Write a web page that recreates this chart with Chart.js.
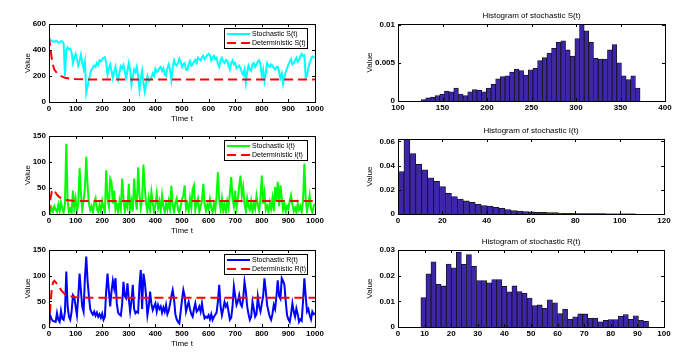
<!DOCTYPE html>
<html>
<head>
<meta charset="utf-8">
<script src="https://cdn.jsdelivr.net/npm/chart.js@4.4.1/dist/chart.umd.min.js"></script>
<style>
  html, body { margin: 0; padding: 0; background: #fff; }
  #wrap { position: relative; width: 686px; height: 361px; overflow: hidden; background: #fff; }
  #wrap canvas { position: absolute; left: 0; top: 0; }
</style>
</head>
<body>
<div id="wrap">
  <canvas id="lineS" width="686" height="361"></canvas>
  <canvas id="lineI" width="686" height="361"></canvas>
  <canvas id="lineR" width="686" height="361"></canvas>
  <canvas id="histS" width="686" height="361"></canvas>
  <canvas id="histI" width="686" height="361"></canvas>
  <canvas id="histR" width="686" height="361"></canvas>
</div>
<script>
const FONT = "'Liberation Sans', Arial, Helvetica, sans-serif";
Chart.defaults.font.family = FONT;
Chart.defaults.font.size = 8;
Chart.defaults.color = '#000';

// time grid of the simulations
const t5 = Array.from({ length: 201 }, (_, i) => i * 5);
const timeTicks = [0, 100, 200, 300, 400, 500, 600, 700, 800, 900, 1000];

// stochastic S(t), every 5 time units
const stochS = [
  485, 478, 470, 466, 462, 470, 468, 455, 460, 468,
  465, 450, 200, 400, 420, 405, 410, 380, 300, 340,
  370, 330, 280, 320, 365, 300, 255, 310, 70, 120,
  170, 220, 250, 265, 280, 270, 300, 285, 320, 310,
  330, 340, 345, 300, 210, 260, 290, 240, 185, 230,
  270, 200, 170, 230, 275, 260, 285, 230, 185, 240,
  300, 250, 135, 190, 250, 230, 270, 200, 95, 180,
  240, 150, 80, 140, 200, 160, 170, 190, 220, 200,
  255, 230, 240, 260, 270, 240, 260, 210, 200, 260,
  290, 250, 170, 260, 320, 290, 280, 300, 335, 310,
  270, 290, 300, 250, 245, 290, 315, 280, 290, 310,
  325, 300, 340, 330, 320, 345, 355, 330, 345, 360,
  370, 360, 320, 340, 355, 330, 340, 290, 270, 320,
  340, 310, 300, 325, 320, 280, 250, 300, 320, 290,
  300, 260, 270, 280, 260, 230, 210, 250, 150, 230,
  280, 250, 240, 290, 300, 270, 290, 310, 320, 290,
  200, 250, 160, 220, 300, 280, 270, 290, 280, 260,
  250, 270, 270, 230, 185, 220, 140, 190, 230, 260,
  290, 310, 330, 290, 300, 320, 340, 310, 325, 350,
  370, 355, 360, 190, 200, 260, 300, 330, 350, 345,
  340
];

// stochastic I(t), every 5 time units
const stochI = [
  20, 3, 12, 5, 15, 8, 4, 18, 6, 22,
  10, 3, 20, 135, 25, 4, 10, 2, 45, 12,
  30, 5, 20, 88, 40, 8, 25, 50, 110, 55,
  20, 8, 15, 3, 22, 30, 10, 4, 18, 6,
  25, 12, 3, 84, 30, 15, 68, 62, 20, 45,
  8, 18, 4, 25, 10, 68, 30, 5, 20, 12,
  58, 10, 25, 5, 68, 30, 8, 90, 40, 12,
  28, 95, 52, 20, 5, 30, 10, 42, 22, 4,
  18, 39, 12, 25, 6, 36, 15, 3, 20, 8,
  25, 10, 54, 18, 4, 22, 30, 8, 3, 15,
  28, 36, 55, 10, 20, 5, 30, 12, 48, 55,
  8, 22, 30, 4, 15, 25, 58, 20, 6, 18,
  10, 28, 12, 3, 20, 8, 35, 80, 25, 10,
  30, 6, 18, 4, 25, 12, 40, 71, 30, 15,
  45, 12, 28, 55, 74, 35, 52, 20, 5, 30,
  15, 8, 25, 4, 20, 10, 35, 18, 6, 30,
  74, 20, 40, 8, 15, 3, 22, 10, 30, 5,
  52, 25, 62, 15, 55, 30, 8, 20, 4, 15,
  10, 25, 36, 18, 5, 12, 3, 20, 8, 15,
  4, 25, 97, 30, 6, 20, 36, 10, 3, 15,
  20
];

// stochastic R(t), every 5 time units
const stochR = [
  3, 22, 15, 12, 11, 10, 27, 14, 10, 31,
  16, 14, 30, 108, 40, 20, 14, 30, 62, 58,
  40, 23, 60, 104, 70, 40, 30, 95, 137, 90,
  60, 35, 28, 24, 30, 22, 28, 20, 25, 18,
  26, 14, 20, 70, 104, 70, 40, 70, 90, 75,
  95, 45, 28, 24, 22, 45, 88, 60, 56, 85,
  55, 30, 50, 82, 35, 27, 30, 28, 80, 111,
  35, 104, 88, 60, 23, 40, 69, 45, 33, 40,
  46, 30, 43, 35, 40, 28, 38, 30, 43, 25,
  32, 45, 60, 72, 55, 25, 15, 10, 7, 30,
  53, 72, 60, 30, 40, 49, 35, 25, 20, 35,
  46, 30, 33, 40, 30, 46, 28, 17, 20, 18,
  23, 15, 25, 14, 20, 24, 28, 50, 82, 40,
  23, 35, 49, 40, 45, 30, 14, 18, 40, 79,
  60, 43, 50, 62, 45, 40, 55, 88, 70, 40,
  25, 14, 20, 49, 35, 20, 25, 59, 40, 30,
  45, 60, 95, 70, 43, 30, 20, 14, 25, 43,
  35, 60, 91, 60, 55, 95, 90, 82, 50, 23,
  15, 10, 25, 46, 30, 20, 36, 25, 10, 15,
  12, 50, 95, 60, 30, 35, 23, 15, 30, 25,
  27
];

// deterministic solutions
const detTimes = [0, 5, 10, 15, 20, 30, 40, 50, 60, 80, 100, 150, 1000];
const detS = [500, 420, 340, 285, 250, 222, 205, 195, 187, 180, 176, 174, 174];
const detI = [0, 28, 42, 47, 45, 37, 32, 29, 27, 26, 25, 25, 25];
const detR = [0, 40, 72, 87, 90, 84, 76, 69, 64, 60, 58, 57, 57];

// histograms (density per bin)
const histSRange = [126, 372];
const histS = [
  0.0002, 0.0004, 0.0005, 0.0007, 0.0009, 0.0013, 0.0012, 0.0017, 0.0009, 0.0007,
  0.0012, 0.0015, 0.0014, 0.0012, 0.0017, 0.0022, 0.0029, 0.0032, 0.0033, 0.0038,
  0.0042, 0.0040, 0.0034, 0.0041, 0.0043, 0.0053, 0.0057, 0.0063, 0.0069, 0.0077,
  0.0079, 0.0067, 0.0059, 0.0082, 0.0101, 0.0092, 0.0077, 0.0056, 0.0055, 0.0055,
  0.0067, 0.0074, 0.0050, 0.0033, 0.0028, 0.0033, 0.0017
];
const histIRange = [0, 107.2];
const histI = [
  0.035, 0.064, 0.050, 0.041, 0.0365, 0.030, 0.027, 0.0227, 0.017, 0.0144,
  0.0124, 0.0108, 0.0097, 0.0080, 0.0069, 0.0066, 0.0055, 0.0047, 0.0036, 0.0028,
  0.0025, 0.0019, 0.0017, 0.0014, 0.0014, 0.0011, 0.0011, 0.0008, 0.0006, 0.0006,
  0.0004, 0.0004, 0.0003, 0.0003, 0.0003, 0.0002, 0.0002, 0.0002, 0.0002, 0.0002
];
const histRRange = [8.6, 94.2];
const histR = [
  0.0115, 0.0207, 0.0254, 0.0166, 0.0160, 0.0245, 0.0231, 0.0292, 0.0244, 0.0282,
  0.0236, 0.0181, 0.0181, 0.0172, 0.0185, 0.0185, 0.0158, 0.0137, 0.0160, 0.0138,
  0.0132, 0.0113, 0.0083, 0.0086, 0.0073, 0.0106, 0.0094, 0.0052, 0.0070, 0.0030,
  0.0040, 0.0051, 0.0051, 0.0034, 0.0035, 0.0020, 0.0026, 0.0029, 0.0029, 0.0043,
  0.0048, 0.0030, 0.0044, 0.0026, 0.0022
];

const histSxTicks = [100, 150, 200, 250, 300, 350, 400];
const histSyTicks = [0, 0.005, 0.01];
const histIxTicks = [0, 20, 40, 60, 80, 100, 120];
const histIyTicks = [0, 0.02, 0.04, 0.06];
const histRxTicks = [0, 10, 20, 30, 40, 50, 60, 70, 80, 90, 100];
const histRyTicks = [0, 0.01, 0.02, 0.03];

function pairs(xs, ys) {
  return ys.map((y, i) => ({ x: xs[i], y: y }));
}

function binCentres(range, n) {
  const w = (range[1] - range[0]) / n;
  return Array.from({ length: n }, (_, i) => range[0] + w * (i + 0.5));
}

// box round the axes with inward ticks, matlab style
const frame = {
  id: 'frame',
  afterDraw(chart) {
    const { ctx, chartArea: a } = chart;
    const x = chart.scales.x, y = chart.scales.y;
    const len = 3;
    ctx.save();
    ctx.strokeStyle = '#000';
    ctx.lineWidth = 1;
    ctx.beginPath();
    x.ticks.forEach(t => {
      const px = Math.round(x.getPixelForValue(t.value)) + 0.5;
      ctx.moveTo(px, a.bottom); ctx.lineTo(px, a.bottom - len);
      ctx.moveTo(px, a.top); ctx.lineTo(px, a.top + len);
    });
    y.ticks.forEach(t => {
      const py = Math.round(y.getPixelForValue(t.value)) + 0.5;
      ctx.moveTo(a.left, py); ctx.lineTo(a.left + len, py);
      ctx.moveTo(a.right, py); ctx.lineTo(a.right - len, py);
    });
    ctx.stroke();
    ctx.strokeRect(Math.round(a.left) + 0.5, Math.round(a.top) + 0.5,
      Math.round(a.right - a.left), Math.round(a.bottom - a.top));
    ctx.restore();
  }
};

// legend drawn inside the plot, top right
const boxLegend = {
  id: 'boxLegend',
  afterDraw(chart, args, opts) {
    if (!opts.display) return;
    const { ctx, chartArea: a } = chart;
    const bx = Math.round(a.right - opts.right - opts.width);
    const by = Math.round(a.top + opts.top);
    ctx.save();
    ctx.fillStyle = '#fff';
    ctx.fillRect(bx, by, opts.width, opts.height);
    ctx.strokeStyle = '#000';
    ctx.lineWidth = 1;
    ctx.strokeRect(bx + 0.5, by + 0.5, opts.width, opts.height);
    ctx.font = '7px ' + FONT;
    ctx.textBaseline = 'middle';
    chart.data.datasets.forEach((ds, i) => {
      const cy = by + 6 + i * 9;
      ctx.strokeStyle = ds.borderColor;
      ctx.lineWidth = ds.borderWidth;
      ctx.setLineDash(ds.borderDash || []);
      ctx.beginPath();
      ctx.moveTo(bx + 3, cy);
      ctx.lineTo(bx + 26, cy);
      ctx.stroke();
      ctx.setLineDash([]);
      ctx.fillStyle = '#000';
      ctx.fillText(ds.label, bx + 28, cy);
    });
    ctx.restore();
  }
};

function fixedTicks(list) {
  return s => { s.ticks = list.map(v => ({ value: v })); };
}

const noGrid = { display: false, drawTicks: false, tickLength: 0 };
const tickFont = { size: 8, weight: 'bold' };

function lineChart(id, rect, yMax, yTicks, stoch, det) {
  return new Chart(document.getElementById(id), {
    type: 'line',
    data: { datasets: [stoch, det] },
    options: {
      responsive: false,
      animation: false,
      events: [],
      layout: { padding: { left: 18, top: rect.t, right: 686 - rect.r, bottom: 361 - rect.b - 22 } },
      elements: { point: { radius: 0 }, line: { tension: 0 } },
      scales: {
        x: {
          type: 'linear', min: 0, max: 1000,
          grid: noGrid, border: { display: false },
          afterBuildTicks: fixedTicks(timeTicks),
          afterFit: s => { s.height = 22; },
          ticks: { padding: 2, font: tickFont, autoSkip: false, maxRotation: 0, callback: v => String(v) },
          title: { display: true, text: 'Time t', padding: 0 }
        },
        y: {
          type: 'linear', min: 0, max: yMax,
          grid: noGrid, border: { display: false },
          afterBuildTicks: fixedTicks(yTicks),
          afterFit: s => { s.width = rect.l - 18; },
          ticks: { padding: 3, font: tickFont, autoSkip: false, callback: v => String(v) },
          title: { display: true, text: 'Value', padding: { top: 5, bottom: 0 } }
        }
      },
      plugins: {
        legend: { display: false },
        tooltip: { enabled: false },
        boxLegend: { display: true, right: 8, top: 4, width: 83, height: 20 }
      }
    },
    plugins: [frame, boxLegend]
  });
}

function histChart(id, rect, title, range, values, xMin, xMax, xTicks, yMax, yTicks) {
  return new Chart(document.getElementById(id), {
    type: 'bar',
    data: {
      datasets: [{
        data: pairs(binCentres(range, values.length), values),
        backgroundColor: '#3e26a8',
        borderColor: '#111',
        borderWidth: 0.8,
        barPercentage: 1,
        categoryPercentage: 1
      }]
    },
    options: {
      responsive: false,
      animation: false,
      events: [],
      layout: { padding: { left: 360, top: rect.t - 12.6, right: 686 - rect.r, bottom: 361 - rect.b - 14 } },
      scales: {
        x: {
          type: 'linear', min: xMin, max: xMax, offset: false,
          grid: noGrid, border: { display: false },
          afterBuildTicks: fixedTicks(xTicks),
          afterFit: s => { s.height = 14; },
          ticks: { padding: 2, font: tickFont, autoSkip: false, maxRotation: 0, callback: v => String(v) }
        },
        y: {
          type: 'linear', min: 0, max: yMax,
          grid: noGrid, border: { display: false },
          afterBuildTicks: fixedTicks(yTicks),
          afterFit: s => { s.width = rect.l - 360; },
          ticks: { padding: 3, font: tickFont, autoSkip: false, callback: v => String(v) },
          title: { display: true, text: 'Value', padding: { top: 5, bottom: 0 } }
        }
      },
      plugins: {
        legend: { display: false },
        tooltip: { enabled: false },
        title: { display: true, text: title, fullSize: false, color: '#000',
          font: { size: 8, weight: 'normal', lineHeight: 1.2 }, padding: { top: 0, bottom: 3 } }
      }
    },
    plugins: [frame]
  });
}

function stochSet(label, ts, values, colour) {
  return { label: label, data: pairs(ts, values), borderColor: colour, borderWidth: 2, pointRadius: 0, order: 1 };
}
function detSet(label, values) {
  return { label: label, data: pairs(detTimes, values), borderColor: '#ff0000', borderWidth: 2,
    borderDash: [9, 5], pointRadius: 0, order: 0 };
}

lineChart('lineS', { l: 49, t: 24, r: 315, b: 102 }, 600, [0, 200, 400, 600],
  stochSet('Stochastic S(t)', t5, stochS, '#00ffff'), detSet('Deterministic S(t)', detS));
lineChart('lineI', { l: 49, t: 136, r: 315, b: 214 }, 150, [0, 50, 100, 150],
  stochSet('Stochastic I(t)', t5, stochI, '#00ff00'), detSet('Deterministic I(t)', detI));
lineChart('lineR', { l: 49, t: 250, r: 315, b: 327 }, 150, [0, 50, 100, 150],
  stochSet('Stochastic R(t)', t5, stochR, '#0000ff'), detSet('Deterministic R(t)', detR));

histChart('histS', { l: 398, t: 24, r: 665, b: 101 }, 'Histogram of stochastic S(t)',
  histSRange, histS, 100, 400, histSxTicks, 0.0101, histSyTicks);
histChart('histI', { l: 398, t: 139, r: 664, b: 214 }, 'Histogram of stochastic I(t)',
  histIRange, histI, 0, 120, histIxTicks, 0.062, histIyTicks);
histChart('histR', { l: 398, t: 250, r: 664, b: 327 }, 'Histogram of stochastic R(t)',
  histRRange, histR, 0, 100, histRxTicks, 0.03, histRyTicks);
</script>
</body>
</html>
